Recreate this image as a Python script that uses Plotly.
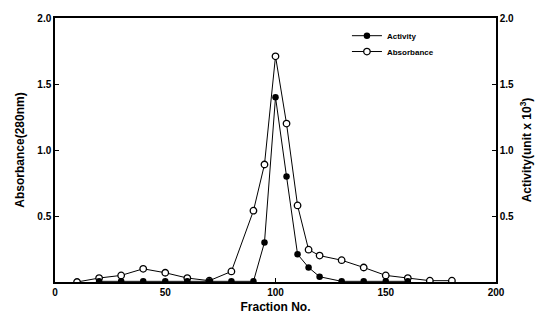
import plotly.graph_objects as go

abs_x = [10, 20, 30, 40, 50, 60, 70, 80, 90, 95, 100, 105, 110, 115, 120, 130, 140, 150, 160, 170, 180]
abs_y = [0.0, 0.03, 0.05, 0.10, 0.07, 0.03, 0.01, 0.08, 0.54, 0.89, 1.71, 1.20, 0.58, 0.245, 0.20, 0.165, 0.11, 0.05, 0.03, 0.01, 0.01]

act_x = [20, 30, 40, 50, 60, 70, 80, 90, 95, 100, 105, 110, 115, 120, 130, 140, 150, 160]
act_y = [0.005, 0.005, 0.005, 0.005, 0.005, 0.005, 0.005, 0.005, 0.30, 1.40, 0.80, 0.21, 0.11, 0.04, 0.005, 0.005, 0.005, 0.005]

x_ticks = [0, 50, 100, 150, 200]
y_ticks = [0.5, 1.0, 1.5, 2.0]

fnt = "Liberation Sans"

fig = go.Figure()
fig.add_trace(go.Scatter(
    x=act_x, y=act_y, name="Activity", yaxis="y2", legend="legend",
    mode="lines+markers",
    line=dict(color="black", width=1),
    marker=dict(symbol="circle", size=6.5, color="black"),
))
fig.add_trace(go.Scatter(
    x=abs_x, y=abs_y, name="Absorbance", legend="legend2",
    mode="lines+markers",
    line=dict(color="black", width=1),
    marker=dict(symbol="circle", size=6.5, color="white", line=dict(color="black", width=1.3)),
))

axis_common = dict(
    showgrid=False, zeroline=False, showline=True, linecolor="black", linewidth=1.5,
    ticks="inside", ticklen=4, tickcolor="black",
    tickfont=dict(family=fnt, size=10, color="black", weight="bold"),
)
title_font = dict(family=fnt, size=12, color="black", weight="bold")
leg_font = dict(family=fnt, size=8, color="black", weight="bold")

fig.update_layout(
    width=547, height=325,
    margin=dict(l=55, r=51, t=13, b=43),
    paper_bgcolor="white", plot_bgcolor="white",
    showlegend=True,
    legend=dict(x=0.662, y=0.933, xanchor="left", yanchor="middle",
                font=leg_font, bgcolor="rgba(0,0,0,0)", itemwidth=30),
    legend2=dict(x=0.662, y=0.873, xanchor="left", yanchor="middle",
                 font=leg_font, bgcolor="rgba(0,0,0,0)", itemwidth=30),
    xaxis=dict(range=[0, 200], tickvals=x_ticks, mirror=True,
               title=dict(text="Fraction No.", font=title_font, standoff=6),
               **axis_common),
    yaxis=dict(range=[0, 2.0], tickvals=y_ticks, tickformat=".1f",
               title=dict(text="Absorbance(280nm)", font=title_font, standoff=10),
               **axis_common),
    yaxis2=dict(range=[0, 2.0], tickvals=y_ticks, tickformat=".1f", overlaying="y", side="right",
                title=dict(text="Activity(unit x 10<sup>3</sup>)", font=title_font, standoff=10),
                **axis_common),
)

fig.write_html("out.html")
